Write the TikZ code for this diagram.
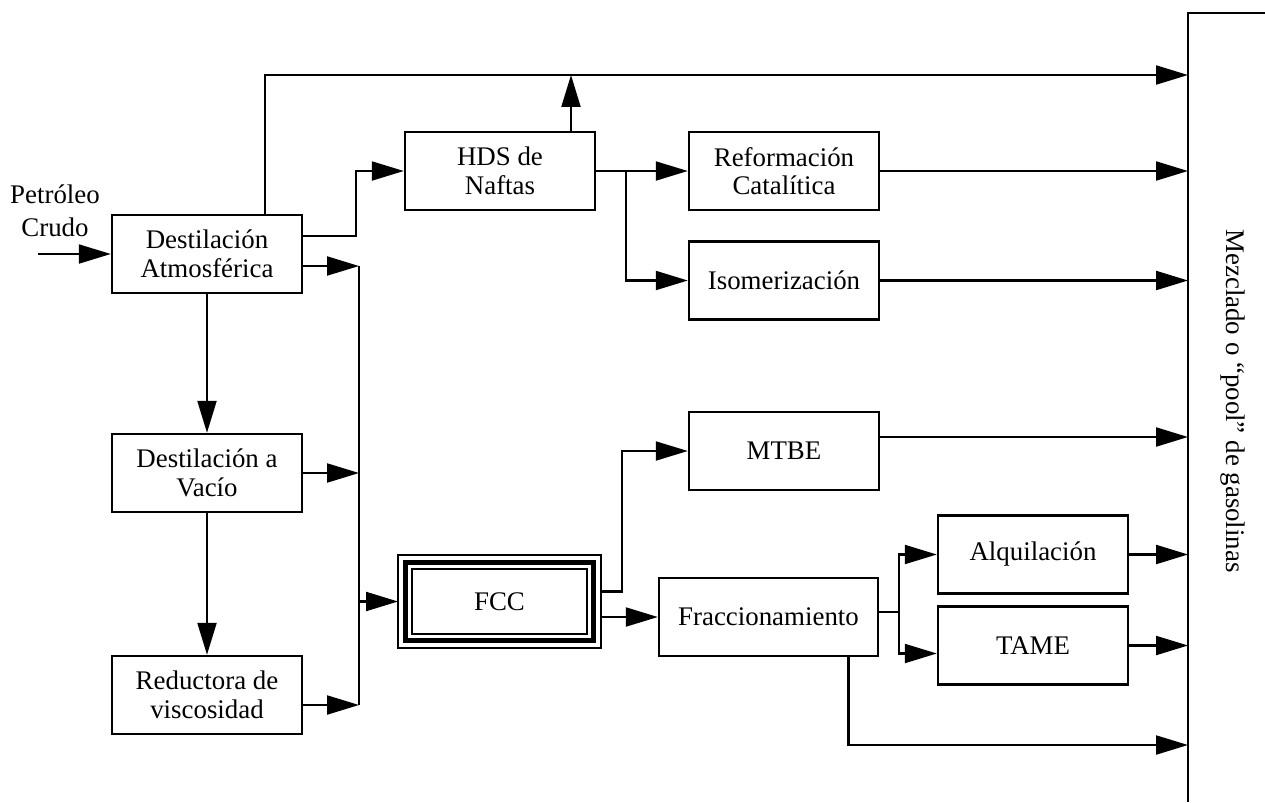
\documentclass[tikz,border=0pt]{standalone}
\usepackage{fontspec}
\setmainfont{Liberation Serif}
\usetikzlibrary{arrows.meta,calc}

\tikzset{
    unit/.style={draw, line width=1.4pt, minimum width=3.8cm, minimum height=1.56cm,
        align=center, inner sep=2pt, font=\fontsize{15.3}{16.2}\selectfont},
    lbl/.style={align=center, font=\fontsize{15.3}{16.2}\selectfont},
    wire/.style={line width=1.2pt},
    flow/.style={wire, -{Triangle[length=0.64cm,width=0.38cm]}},
}

\begin{document}
\begin{tikzpicture}[x=0.02cm, y=-0.02cm]
    \useasboundingbox (0,0) rectangle (1265,802);

    % process units
    \node[unit] (DA) at (207,254) {Destilación\\Atmosférica};
    \node[unit] (DV) at (207,473) {Destilación a\\Vacío};
    \node[unit] (RV) at (207,695) {Reductora de\\viscosidad};
    \node[unit] (HDS) at (500,171) {HDS de\\Naftas};
    \node[unit] (REF) at (784,171) {Reformación\\Catalítica};
    \node[unit] (ISO) at (784,280.5) {Isomerización};
    \node[unit] (MTBE) at (784,451) {MTBE};
    \node[unit, minimum width=4.38cm] (FRAC) at (768.5,617) {Fraccionamiento};
    \node[unit] (ALQ) at (1033,554.5) {Alquilación};
    \node[unit] (TAME) at (1033,645.5) {TAME};
    \node[unit, line width=1.1pt, minimum width=3.5cm, minimum height=1.3cm,
        outer sep=0.28cm] (FCC) at (499.5,601.5) {FCC};
    \draw[line width=2.8pt] ($(FCC.north west)+(7.5,7.5)$) rectangle ($(FCC.south east)+(-7.5,-7.5)$);
    \draw[line width=1.1pt] (FCC.north west) rectangle (FCC.south east);

    % feed
    \coordinate (crude) at (38,254);
    \node[lbl, font=\fontsize{15.3}{19}\selectfont] (feed) at (55,211) {Petróleo\\Crudo};
    \draw[flow] (crude) -- (DA.west);

    % gasoline pool
    \coordinate (pool) at (1188,13);
    \coordinate (poolbot) at (1188,802);
    \coordinate (poolend) at (1265,13);
    \draw[wire, line width=1.5pt] (poolbot) -- (pool) -- (poolend);
    \node[lbl, rotate=-90] (POOL) at (1233,401) {Mezclado o “pool” de gasolinas};

    % straight run naphtha
    \coordinate (topline) at (0,75);
    \draw[flow] ($(DA.north)+(58,0)$) |- (topline -| pool);
    \coordinate (hdsup) at ($(HDS.north)+(71,0)$);
    \draw[flow] (hdsup) -- (hdsup |- topline);

    % atmospheric column outlets
    \draw[flow] ($(DA.east)+(0,-18)$) -- ++(53,0) |- (HDS.west);
    \draw[flow] (DA.south) -- (DV.north);
    \draw[flow] (DV.south) -- (RV.north);

    % heavy streams to FCC
    \coordinate (bus) at (359,0);
    \coordinate (daout) at ($(DA.east)+(0,12)$);
    \coordinate (rvout) at ($(RV.east)+(0,10)$);
    \draw[wire] (daout -| bus) -- (rvout -| bus);
    \draw[flow] (daout) -- (daout -| bus);
    \draw[flow] (DV.east) -- (DV.east -| bus);
    \draw[flow] (rvout) -- (rvout -| bus);
    \draw[flow] (FCC.west -| bus) -- (FCC.west);

    % naphtha treatment
    \draw[flow] (HDS.east) -- (REF.west);
    \draw[flow] (HDS.east) -- ++(30,0) |- (ISO.west);
    \draw[flow] (REF.east) -- (REF.east -| pool);
    \draw[flow] (ISO.east) -- (ISO.east -| pool);

    % FCC products
    \draw[flow] ($(FCC.east)+(0,-10)$) -- ++(21,0) |- (MTBE.west);
    \draw[flow] (FCC.east |- FRAC.west) -- (FRAC.west);
    \coordinate (mtbeout) at ($(MTBE.east)+(0,-14)$);
    \draw[flow] (mtbeout) -- (mtbeout -| pool);

    \coordinate (split) at ($(FRAC.east)+(20,-5)$);
    \draw[wire] ($(FRAC.east)+(0,-5)$) -- (split);
    \draw[flow] (split) |- (ALQ.west);
    \draw[flow] (split) |- ($(TAME.west)+(0,8)$);
    \draw[flow] (ALQ.east) -- (ALQ.east -| pool);
    \draw[flow] (TAME.east) -- (TAME.east -| pool);
    \coordinate (botline) at (0,745);
    \draw[flow] ($(FRAC.south)+(80,0)$) |- (botline -| pool);

\end{tikzpicture}
\end{document}
